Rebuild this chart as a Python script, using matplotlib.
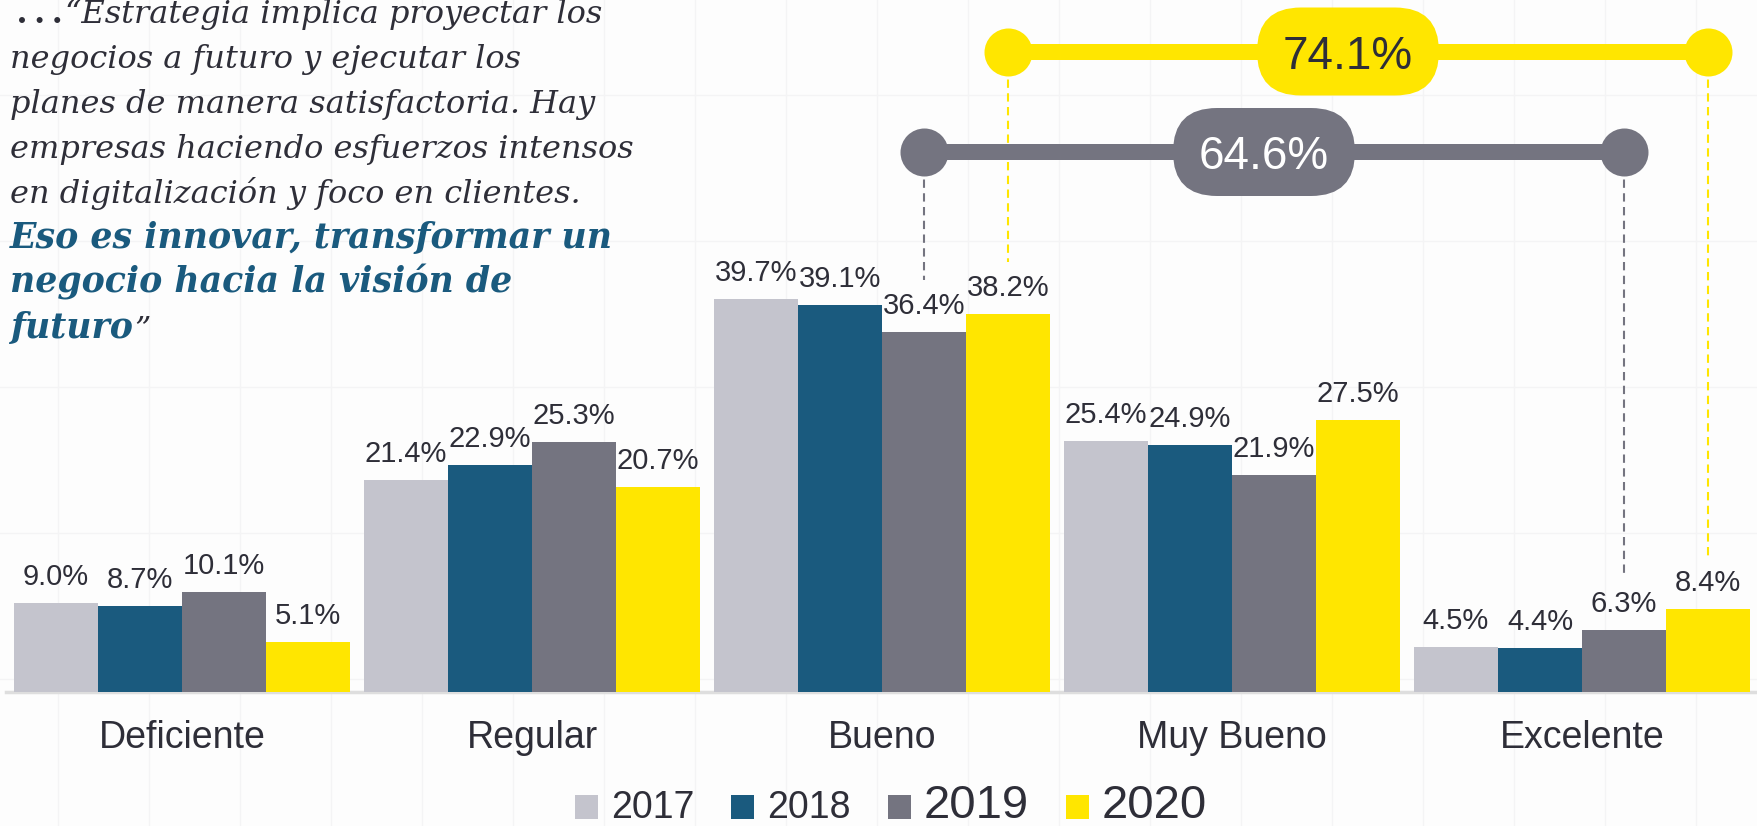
import matplotlib
matplotlib.use("Agg")
import matplotlib.pyplot as plt
import numpy as np
from matplotlib.patches import FancyBboxPatch, Rectangle
from matplotlib.lines import Line2D
from matplotlib.transforms import IdentityTransform

# ---------------- data ----------------
categories = ["Deficiente", "Regular", "Bueno", "Muy Bueno", "Excelente"]
years = ["2017", "2018", "2019", "2020"]
v2017 = [9.0, 21.4, 39.7, 25.4, 4.5]
v2018 = [8.7, 22.9, 39.1, 24.9, 4.4]
v2019 = [10.1, 25.3, 36.4, 21.9, 6.3]
v2020 = [5.1, 20.7, 38.2, 27.5, 8.4]
series = [v2017, v2018, v2019, v2020]
colors = ["#c4c4cd", "#1a5a7e", "#747480", "#ffe600"]
legend_font_sizes = [27, 27, 34, 34]
# the highlighted sum covers these categories (Bueno .. Excelente)
highlight_categories = ["Bueno", "Muy Bueno", "Excelente"]
highlight_years = ["2020", "2019"]

quote_dark = [
    "negocios a futuro y ejecutar los",
    "planes de manera satisfactoria. Hay",
    "empresas haciendo esfuerzos intensos",
    "en digitalización y foco en clientes.",
]
quote_first = ("\u2009.\u2009.\u2009.", "\u201cEstrategia implica proyectar los")
quote_blue = [
    "Eso es innovar, transformar un",
    "negocio hacia la visión de",
]
quote_last = ("futuro", "\u201d")

# ---------------- style ----------------
W, H = 1758, 826
BG = "#fdfdfd"
TXT = "#2e2e38"
BLUE = "#1a5a7e"
plt.rcParams["font.family"] = ["Liberation Sans", "DejaVu Sans"]

fig = plt.figure(figsize=(W / 100, H / 100), dpi=100, facecolor=BG)

# faint background grid
for gx in np.arange(58, W, 91):
    fig.add_artist(Line2D([gx / W, gx / W], [0, 1], transform=fig.transFigure,
                          color="#f4f4f5", lw=1, zorder=0))
for gy in (95, 241, 387, 533, 679):
    fig.add_artist(Line2D([0, 1], [1 - gy / H, 1 - gy / H], transform=fig.transFigure,
                          color="#f4f4f5", lw=1, zorder=0))

ax = fig.add_axes([0, 0, 1, 1])
ax.set_facecolor("none")
ax.axis("off")

PX_X = 350.0      # px per category
C0 = 182.0        # px of first category center
BASE = 692.0      # baseline px from top
PX_Y = 9.9        # px per percent
ax.set_xlim(-C0 / PX_X, (W - C0) / PX_X)
ax.set_ylim(-(H - BASE) / PX_Y, BASE / PX_Y)

bw = 0.24
xc = np.arange(len(categories))
labels = {}
for i, (vals, c) in enumerate(zip(series, colors)):
    xs = xc + (i - 1.5) * bw
    ax.bar(xs, vals, width=bw, color=c, zorder=3, linewidth=0)
    for j, (x, v) in enumerate(zip(xs, vals)):
        labels[(i, j)] = ax.annotate(f"{v:.1f}%", (x, v), xytext=(0, 18),
                                     textcoords="offset pixels", ha="center",
                                     va="baseline", fontsize=21, color=TXT, zorder=4)

ax.axhline(0, xmin=6 / W, xmax=1, color="#dedede", lw=2.5, zorder=2)

for j, cat in enumerate(categories):
    ax.annotate(cat, (j, 0), xytext=(0, -56), textcoords="offset pixels",
                ha="center", va="baseline", fontsize=27, color=TXT)

fig.canvas.draw()
renderer = fig.canvas.get_renderer()

# highlight connectors
cat_idx = [categories.index(c) for c in highlight_categories]
row_y_px = {"2020": 51.5, "2019": 152.0}
pill_text_color = {"2020": TXT, "2019": "white"}
for yr in highlight_years:
    si = years.index(yr)
    c = colors[si]
    total = sum(series[si][k] for k in cat_idx)
    x0 = cat_idx[0] + (si - 1.5) * bw
    x1 = cat_idx[-1] + (si - 1.5) * bw
    yd = (BASE - row_y_px[yr]) / PX_Y
    # dashed drops to the labels
    for xx, jj in ((x0, cat_idx[0]), (x1, cat_idx[-1])):
        ext = labels[(si, jj)].get_window_extent(renderer)
        yend = ax.transData.inverted().transform((0, ext.y1 + 12))[1]
        ax.plot([xx, xx], [yd, yend], color=c, lw=1.5, ls=(0, (4, 2.6)), zorder=4)
    ax.plot([x0, x1], [yd, yd], color=c, lw=16 * 0.72, solid_capstyle="butt", zorder=5)
    ax.scatter([x0, x1], [yd, yd], s=(48 * 0.72) ** 2, color=c, zorder=6, linewidths=0)
    mid = (x0 + x1) / 2
    cx, cy = ax.transData.transform((mid, yd))
    cx -= 10
    pill = FancyBboxPatch((cx - 91, cy - 44), 182, 88,
                          boxstyle="round,pad=0,rounding_size=44",
                          transform=IdentityTransform(), fc=c, ec="none",
                          zorder=7, clip_on=False)
    ax.add_patch(pill)
    ax.text(cx, cy, f"{total:.1f}%", ha="center", va="center_baseline", fontsize=33,
            color=pill_text_color[yr], zorder=8, transform=IdentityTransform())

# quote text
QX = 10


def qtext(x, ybase, s, color, weight="normal", style="italic", fs=23):
    t = fig.text(x, H - ybase, s, transform=IdentityTransform(), fontsize=fs,
                 family=["DejaVu Serif"], style=style, weight=weight, color=color,
                 va="baseline", ha="left")
    fig.canvas.draw()
    return t.get_window_extent(fig.canvas.get_renderer()).x1


yb = 23
xe = qtext(QX, yb, quote_first[0], TXT, weight="bold", style="normal")
qtext(xe + 2, yb, quote_first[1], TXT)
for k, line in enumerate(quote_dark):
    qtext(QX, yb + 45 * (k + 1), line, TXT)
for k, line in enumerate(quote_blue):
    qtext(QX, yb + 45 * (k + 5), line, BLUE, weight="bold", fs=25)
xe = qtext(QX, yb + 45 * 7, quote_last[0], BLUE, weight="bold", fs=25)
qtext(xe + 1, yb + 45 * 7, quote_last[1], TXT)

# legend
lx = 575
for yr, c, fs in zip(years, colors, legend_font_sizes):
    fig.add_artist(Rectangle((lx, 7), 23, 24, transform=IdentityTransform(),
                             fc=c, ec="none"))
    t = fig.text(lx + 36, 8, yr, transform=IdentityTransform(), fontsize=fs,
                 color=TXT, va="baseline", ha="left")
    fig.canvas.draw()
    lx = t.get_window_extent(fig.canvas.get_renderer()).x1 + 37

fig.savefig("out.png", dpi=100, facecolor=BG)
